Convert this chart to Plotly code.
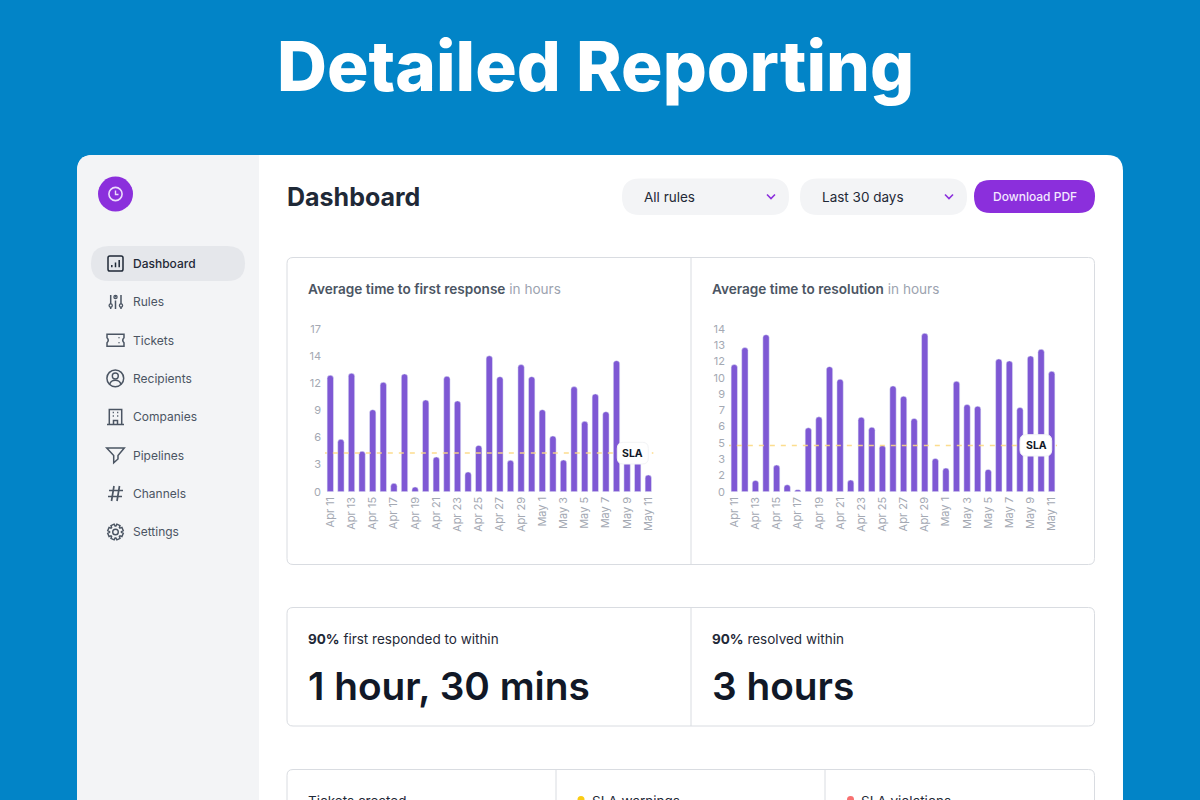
import re
import math
import plotly.graph_objects as go

# chart values
days = ["Apr 11","Apr 12","Apr 13","Apr 14","Apr 15","Apr 16","Apr 17","Apr 18","Apr 19","Apr 20",
        "Apr 21","Apr 22","Apr 23","Apr 24","Apr 25","Apr 26","Apr 27","Apr 28","Apr 29","Apr 30",
        "May 1","May 2","May 3","May 4","May 5","May 6","May 7","May 8","May 9","May 10","May 11"]
first_response = [12.16,5.47,12.37,4.22,8.57,11.43,0.87,12.3,0.49,9.58,3.62,12.06,9.48,2.06,4.84,14.2,
                  12.02,3.28,13.28,12.02,8.57,5.82,3.31,10.98,7.35,10.21,8.36,13.69,3.4,3.4,1.74]
resolution = [10.94,12.4,0.97,13.51,2.29,0.6,0.17,5.5,6.44,10.76,9.68,1.0,6.41,5.55,3.98,9.1,
              8.22,6.3,13.63,2.86,2.03,9.5,7.5,7.36,1.92,11.42,11.25,7.24,11.68,12.25,10.36]
first_sla = 4.04
resolution_sla = 3.98
first_ticks = ["0","3","6","9","12","14","17"]
resolution_ticks = ["0","2","3","5","6","7","9","10","12","13","14"]
nav_items = ["Dashboard","Rules","Tickets","Recipients","Companies","Pipelines","Channels","Settings"]

FONT = "Inter"
BLUE = "#0284c7"
PURPLE = "#8b2fdc"
BAR = "#7e58d4"
BORDER = "#d9dce1"
GREY = "#a4a9b3"
DARK = "#111827"
ICON = "#4b5563"
W, H = 1200, 800


def X(x):
    return x / W

def Y(y):
    return 1 - y / H

# svg path in screen pixels -> paper coords
def to_paper(d, ox=0, oy=0):
    nums = iter(range(10**6))
    def conv(m):
        v = float(m.group(0))
        if next(nums) % 2 == 0:
            return f"{X(v + ox):.5f}"
        return f"{Y(v + oy):.5f}"
    return re.sub(r"-?\d+\.?\d*", conv, d)

def round_rect(x0, y0, x1, y1, r):
    return (f"M{x0+r} {y0} L{x1-r} {y0} Q{x1} {y0} {x1} {y0+r} L{x1} {y1-r} Q{x1} {y1} {x1-r} {y1} "
            f"L{x0+r} {y1} Q{x0} {y1} {x0} {y1-r} L{x0} {y0+r} Q{x0} {y0} {x0+r} {y0} Z")

shapes = []
annotations = []

def add_path(d, fill=None, line=None, width=1.0, layer="below"):
    shapes.append(dict(type="path", xref="paper", yref="paper", path=to_paper(d), layer=layer,
                       fillcolor=fill or "rgba(0,0,0,0)",
                       line=dict(color=line or "rgba(0,0,0,0)", width=width if line else 0)))

def add_icon(d, ox, oy, width=1.5, color=ICON, fill=None):
    shapes.append(dict(type="path", xref="paper", yref="paper", path=to_paper(d, ox, oy), layer="below",
                       fillcolor=fill or "rgba(0,0,0,0)", line=dict(color=color, width=width)))

def add_circle(cx, cy, r, fill=None, line=None, width=1.5):
    shapes.append(dict(type="circle", xref="paper", yref="paper", layer="below",
                       x0=X(cx - r), x1=X(cx + r), y0=Y(cy + r), y1=Y(cy - r),
                       fillcolor=fill or "rgba(0,0,0,0)",
                       line=dict(color=line or "rgba(0,0,0,0)", width=width if line else 0)))

def add_line(x0, y0, x1, y1, color=BORDER, width=1):
    shapes.append(dict(type="line", xref="paper", yref="paper", layer="below",
                       x0=X(x0), x1=X(x1), y0=Y(y0), y1=Y(y1), line=dict(color=color, width=width)))

def add_text(x, y, text, size=13, color=DARK, weight=400, anchor="left"):
    # annotations carry a small box padding, take it off left aligned text
    annotations.append(dict(xref="paper", yref="paper", x=X(x), y=Y(y), text=text, showarrow=False,
                            xanchor=anchor, yanchor="middle", align=anchor, borderpad=0, borderwidth=0,
                            font=dict(family=FONT, size=size, color=color, weight=weight)))


# page frame
add_path(round_rect(77, 155, 1123, 840, 16), fill="#ffffff")
add_path("M93 155 L259 155 L259 800 L77 800 L77 171 Q77 155 93 155 Z", fill="#f3f4f6")
add_text(595, 66, "Detailed Reporting", size=69.2, color="#ffffff", weight=800, anchor="center")

# sidebar
add_circle(115.5, 194, 17.5, fill=PURPLE)
add_circle(115.5, 194, 6.6, line="#ecdcfb", width=1.6)
add_icon("M115.5 190.5 L115.5 194.5 L118.5 194.5", 0, 0, width=1.4, color="#ecdcfb")
add_path(round_rect(91, 246, 245, 281, 17.5), fill="#e5e7eb")

nav_y = [263.5, 302, 340.3, 378.5, 416.7, 455, 493.5, 531.7]
for i, (name, ny) in enumerate(zip(nav_items, nav_y)):
    active = i == 0
    add_text(133, ny, name, size=12, color="#1f2937" if active else ICON, weight=500 if active else 400)

# nav icons, local coords around the icon centre
add_icon(round_rect(-7.5, -7.5, 7.5, 7.5, 1.8), 115.5, 263.5, color="#1f2937")
add_icon("M-3.7 3.7 L-3.7 1.5 M0 3.7 L0 -1 M3.7 3.7 L3.7 -3.5", 115.5, 263.5, color="#1f2937")
add_icon("M-4.8 -7 L-4.8 2 M-4.8 5 L-4.8 7 M0 -7 L0 -4.5 M0 -1.5 L0 7 M5.5 -7 L5.5 2 M5.5 5 L5.5 7", 115.5, 302)
for sx, sy in [(110.7, 305.5), (115.5, 297), (121, 305.5)]:
    add_circle(sx, sy, 1.6, line=ICON, width=1.3)
add_icon("M-8.5 -6 L8.5 -6 L8.5 -2.5 Q6 0 8.5 2.5 L8.5 6 L-8.5 6 L-8.5 2.5 Q-6 0 -8.5 -2.5 Z "
         "M3.5 -3 L3.5 -2 M3.5 2 L3.5 3", 115.5, 340.3)
add_circle(115.3, 378.3, 8.4, line=ICON)
add_circle(115.3, 376, 3, line=ICON, width=1.4)
add_icon("M-5.6 6 Q-4.5 2 0 2 Q4.5 2 5.6 6", 115.3, 378.3, width=1.4)
add_icon("M-8.5 7.5 L8.5 7.5 M-6.2 7.5 L-6.2 -7.5 L6.2 -7.5 L6.2 7.5 M-2 7.5 L-2 3.5 L2 3.5 L2 7.5 "
         "M-2.8 -4.5 L-1.6 -4.5 M1.6 -4.5 L2.8 -4.5 M-2.8 -1 L-1.6 -1 M1.6 -1 L2.8 -1", 115.5, 417)
add_icon("M-8.8 -7 L8.8 -7 L2.5 0.5 L2.5 4 L-1.8 7.8 L-1.8 0.5 Z", 115.5, 455)
add_icon("M-6.5 -3 L7.5 -3 M-7.5 3 L6.5 3 M-1.5 -7.5 L-4 7.5 M4 -7.5 L1.5 7.5", 115.5, 493.5, width=1.7)
# gear outline
gear = []
for k in range(8):
    a = k * math.pi / 4 - math.pi / 8
    for da, rad in [(-0.16, 5.9), (-0.11, 7.9), (0.11, 7.9), (0.16, 5.9)]:
        ang = a + da * 2
        gear.append(f"{rad * math.cos(ang) + 115.5:.2f} {rad * math.sin(ang) + 532:.2f}")
add_path("M" + " L".join(gear) + " Z", line=ICON, width=1.4)
add_circle(115.5, 532, 2.8, line=ICON, width=1.4)

# header
add_text(287, 197, "Dashboard", size=25, color="#1f2937", weight=700)
add_path(round_rect(622, 178.5, 789, 215, 18), fill="#f3f4f6")
add_path(round_rect(800, 178.5, 967, 215, 18), fill="#f3f4f6")
add_path(round_rect(974, 180, 1095, 213, 16.5), fill=PURPLE)
add_text(644, 197, "All rules", size=13.5, color="#1f2937")
add_text(822, 197, "Last 30 days", size=13.5, color="#1f2937")
add_text(1034.5, 197, "Download PDF", size=12, color="#f3e8ff", weight=500, anchor="center")
for cx in (771, 949):
    add_icon(f"M{cx-4} 194.5 L{cx} 198.5 L{cx+4} 194.5", 0, 0, width=1.6, color=PURPLE)

# panels
add_path(round_rect(287, 257.5, 1094.5, 564.5, 6), fill="#ffffff", line=BORDER)
add_line(691, 257.5, 691, 564.5)
add_path(round_rect(287, 607.5, 1094.5, 726, 6), fill="#ffffff", line=BORDER)
add_line(691, 607.5, 691, 726)
add_path(round_rect(287, 769.5, 1094.5, 840, 6), fill="#ffffff", line=BORDER)
add_line(556, 769.5, 556, 800)
add_line(825, 769.5, 825, 800)

title = ('<span style="font-weight:600;fill:#4b5563">{}</span>'
         '<span style="fill:#9ca3af"> in hours</span>')
add_text(308, 289, title.format("Average time to first response"), size=13.6, color=ICON)
add_text(712, 289, title.format("Average time to resolution"), size=13.6, color=ICON)

add_text(308, 639, "<b>90%</b> first responded to within", size=13.5, color="#1f2937")
add_text(712, 639, "<b>90%</b> resolved within", size=13.5, color="#1f2937")
add_text(308, 685, "1 hour, 30 mins", size=38.8, color=DARK, weight=600)
add_text(712, 685, "3 hours", size=38.8, color=DARK, weight=600)

add_text(308, 801, "Tickets created", size=13.5, color="#1f2937")
add_circle(581, 799.5, 3.5, fill="#facc15")
add_text(592, 801, "SLA warnings", size=13.5, color="#1f2937")
add_circle(850.5, 799.5, 3.5, fill="#f87171")
add_text(861, 801, "SLA violations", size=13.5, color="#1f2937")

fig = go.Figure()
fig.add_trace(go.Bar(x=days, y=first_response, xaxis="x", yaxis="y", marker=dict(color=BAR, cornerradius=3),
                     width=0.6, hoverinfo="skip"))
fig.add_trace(go.Bar(x=days, y=resolution, xaxis="x2", yaxis="y2", marker=dict(color=BAR, cornerradius=3),
                     width=0.6, hoverinfo="skip"))

# SLA lines and badges
for xr, yr, sla, box, cx, cy in [("x", "y", first_sla, (617.3, 442.3, 648.3, 464), 632.5, 453),
                                 ("x2", "y2", resolution_sla, (1020, 434.7, 1051.7, 456), 1036, 445.3)]:
    shapes.append(dict(type="line", xref=xr, yref=yr, x0=-0.8, x1=30.5, y0=sla, y1=sla, layer="above",
                       line=dict(color="rgba(252,217,130,0.9)", width=1.6, dash="5px,6px")))
    add_path(round_rect(*box, 6), fill="#ffffff", line="#f3f4f6", width=1, layer="above")
    add_text(cx, cy, "SLA", size=10.5, color=DARK, weight=700, anchor="center")

def y_axis(labels, top, anchor):
    n = len(labels) - 1
    return dict(range=[0, top], anchor=anchor, domain=[Y(491.7), Y(329)], showgrid=False, zeroline=False,
                showline=False, ticks="", tickvals=[top * i / n for i in range(n + 1)], ticktext=labels,
                tickfont=dict(family=FONT, size=11, color=GREY), ticklabelstandoff=3)

def x_axis(left, right, anchor):
    return dict(type="category", categoryorder="array", categoryarray=days, range=[-0.5, 30.5], anchor=anchor,
                domain=[X(left), X(right)], showgrid=False, zeroline=False, showline=False, ticks="", tickangle=-90,
                tickvals=days[::2], ticktext=days[::2], tickfont=dict(family=FONT, size=11, color=GREY),
                ticklabelstandoff=2)

fig.update_layout(
    width=W, height=H, margin=dict(l=0, r=0, t=0, b=0, autoexpand=False), autosize=False,
    paper_bgcolor=BLUE, plot_bgcolor="rgba(0,0,0,0)", showlegend=False, hovermode=False, bargap=0.4,
    font=dict(family=FONT),
    xaxis=x_axis(325, 653.6, "y"), yaxis=y_axis(first_ticks, 17, "x"),
    xaxis2=x_axis(729, 1057, "y2"), yaxis2=y_axis(resolution_ticks, 14, "x2"),
    shapes=shapes, annotations=annotations,
)

fig.write_html("out.html", config={"displayModeBar": False},
               post_script="document.body.style.margin='0';document.body.style.overflow='hidden';")
